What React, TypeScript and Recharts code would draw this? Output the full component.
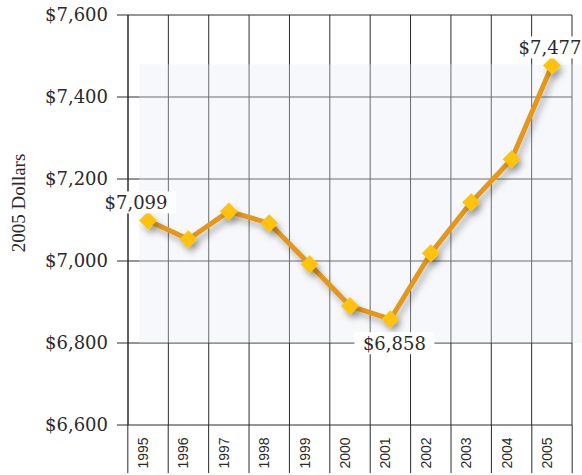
import { CartesianGrid, LabelList, Line, LineChart, ReferenceArea, XAxis, YAxis } from "recharts";

const YEARS = ["1995", "1996", "1997", "1998", "1999", "2000", "2001", "2002", "2003", "2004", "2005"];
const DOLLARS = [7099, 7053, 7121, 7092, 6992, 6890, 6858, 7019, 7143, 7248, 7477];
const Y_TICKS = [6600, 6800, 7000, 7200, 7400, 7600];
// points that carry a value label
const LABELLED = ["1995", "2001", "2005"];

const data = YEARS.map((year, i) => ({ year, value: DOLLARS[i] }));

const SERIF = "'DejaVu Serif', serif";
const TIMES = "'Liberation Serif', serif";
const SANS = "'Liberation Sans', Arial, sans-serif";
const INK = "#2a2a2a";
const LINE = "#e3981a";
const DIAMOND = "#ffc30f";

const money = (v: number) => `$${v.toLocaleString("en-US")}`;

// label placement relative to its point (dx, dy of box centre)
const LABEL_SHIFT: Record<string, [number, number]> = {
  "1995": [-12, -18],
  "2001": [4, 24],
  "2005": [-2, -18],
};

function YearTick(props: any) {
  const { x, y, payload, index, width, visibleTicksCount } = props;
  const col = width / visibleTicksCount;
  return (
    <g>
      <line x1={x - col / 2} x2={x - col / 2} y1={y} y2={y + 48} stroke={INK} />
      {index === visibleTicksCount - 1 && (
        <line x1={x + col / 2} x2={x + col / 2} y1={y} y2={y + 48} stroke={INK} />
      )}
      <text
        transform={`translate(${x},${y + 28}) rotate(-90)`}
        textAnchor="middle"
        fontFamily={SANS}
        fontSize={14}
        fill={INK}
      >
        {payload.value}
      </text>
    </g>
  );
}

function Diamond(props: any) {
  const { cx, cy } = props;
  if (cx == null || cy == null) return null;
  const r = 9;
  return (
    <polygon
      points={`${cx},${cy - r} ${cx + r},${cy} ${cx},${cy + r} ${cx - r},${cy}`}
      fill={DIAMOND}
      filter="url(#dropShadow)"
    />
  );
}

function ValueLabel(props: any) {
  const { x, y, value, index } = props;
  const year = YEARS[index];
  if (!LABELLED.includes(year)) return null;
  const [dx, dy] = LABEL_SHIFT[year];
  const cx = x + dx;
  const cy = y + dy;
  return (
    <g>
      <rect x={cx - 40} y={cy - 11} width={80} height={22} fill="#fff" />
      <text x={cx} y={cy + 7} textAnchor="middle" fontFamily={SERIF} fontSize={18} fill={INK}>
        {money(value)}
      </text>
    </g>
  );
}

export default function App() {
  return (
    <div style={{ position: "absolute", left: 0, top: 0 }}>
      <LineChart width={582} height={475} data={data} margin={{ top: 15, right: 10, bottom: 0, left: 0 }}>
        <defs>
          <filter id="dropShadow" filterUnits="userSpaceOnUse" x={0} y={0} width={582} height={475}>
            <feDropShadow dx={3} dy={5} stdDeviation={3} floodColor="#000" floodOpacity={0.28} />
          </filter>
        </defs>
        <CartesianGrid
          stroke={INK}
          strokeOpacity={1}
          verticalCoordinatesGenerator={({ offset }: any) =>
            Array.from({ length: YEARS.length + 1 }, (_, i) => offset.left + (i * offset.width) / YEARS.length)
          }
        />
        <XAxis
          dataKey="year"
          interval={0}
          padding={{ left: 20, right: 20 }}
          axisLine={false}
          tickLine={false}
          tickSize={0}
          tickMargin={0}
          height={50}
          tick={<YearTick />}
        />
        {/* column-index axis, used only to place the shaded panel */}
        <XAxis xAxisId="cols" type="number" domain={[0, YEARS.length]} hide />
        <ReferenceArea
          xAxisId="cols"
          x1={0.25}
          x2={YEARS.length}
          y1={6800}
          y2={7480}
          fill="#e6ecf6"
          fillOpacity={0.35}
          stroke="none"
          ifOverflow="visible"
        />
        <YAxis
          domain={[6600, 7600]}
          ticks={Y_TICKS}
          width={128}
          tickSize={11}
          tickMargin={9}
          tickFormatter={money}
          tick={{ fontFamily: SERIF, fontSize: 18, fill: INK }}
          tickLine={{ stroke: INK }}
          axisLine={{ stroke: INK }}
          label={{
            content: () => (
              <text transform="translate(25,203) rotate(-90)" textAnchor="middle" fontFamily={TIMES} fontSize={19} fill={INK}>
                2005 Dollars
              </text>
            ),
          }}
        />
        <Line
          dataKey="value"
          type="linear"
          stroke={LINE}
          strokeWidth={5}
          strokeLinejoin="round"
          filter="url(#dropShadow)"
          dot={<Diamond />}
          activeDot={false}
          isAnimationActive={false}
        >
          <LabelList dataKey="value" content={<ValueLabel />} />
        </Line>
      </LineChart>
    </div>
  );
}
